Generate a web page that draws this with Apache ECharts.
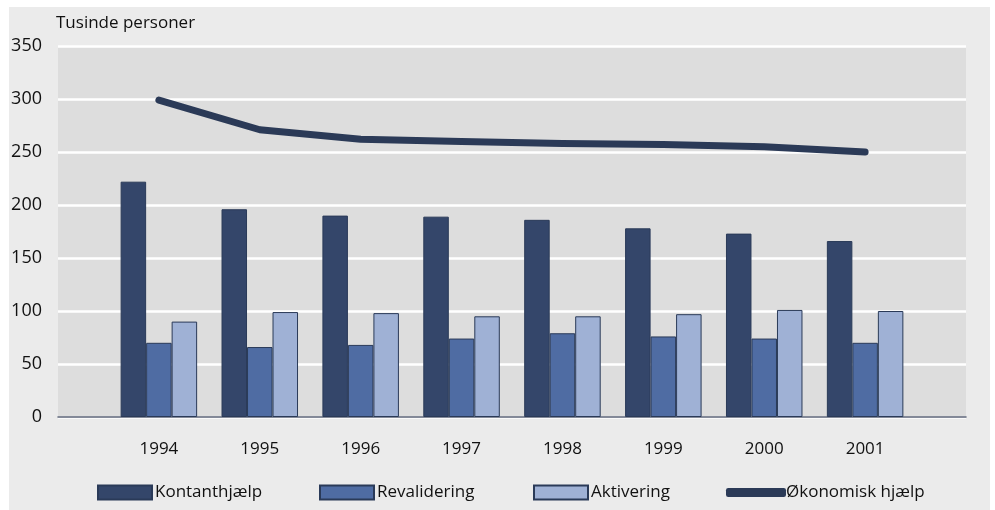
<!DOCTYPE html>
<html>
<head>
<meta charset="utf-8">
<script src="https://cdn.jsdelivr.net/npm/echarts@6/dist/echarts.min.js"></script>
<style>
html,body{margin:0;padding:0;background:#ffffff;}
#chart{width:995px;height:510px;}
</style>
</head>
<body>
<div id="chart"></div>
<script>
const categories = ['', '1994', '1995', '1996', '1997', '1998', '1999', '2000', '2001', ''];
const kontanthjaelp = [null, 222, 196, 190, 189, 186, 178, 173, 166, null];
const revalidering = [null, 70, 66, 68, 74, 79, 76, 74, 70, null];
const aktivering = [null, 90, 99, 98, 95, 95, 97, 101, 100, null];
const oekonomisk = [null, 299, 271, 262, 260, 258, 257, 255, 250, null];
const yTicks = [0, 50, 100, 150, 200, 250, 300, 350];

const FONT = '"Open Sans", "Noto Sans", sans-serif';
const chart = echarts.init(document.getElementById('chart'));
const barBorder = '#2a3a58';

function legend(name, left, w, icon) {
  return {
    data: [{name: name, icon: icon}],
    left: left, top: 484, padding: 0,
    itemWidth: w, itemHeight: 14, itemGap: 0,
    textStyle: {fontFamily: FONT, fontSize: 17, color: '#111', padding: [0,0,0,-2]},
    selectedMode: false
  };
}

chart.setOption({
  backgroundColor: '#ffffff',
  animation: false,
  graphic: [
    {type: 'rect', z: -10, shape: {x: 9, y: 7, width: 981, height: 503}, style: {fill: '#ebebeb'}},
    {type: 'text', left: 56, top: 15, style: {text: 'Tusinde personer', fontFamily: FONT, fontSize: 17, fill: '#111'}}
  ],
  grid: {left: 58, right: 29, top: 46, bottom: 93, show: true, backgroundColor: '#dddddd', borderWidth: 0},
  legend: [
    legend('Kontanthjælp', 97, 54, 'rect'),
    legend('Revalidering', 319, 54, 'rect'),
    legend('Aktivering', 533, 54, 'rect'),
    {
      data: [{name: 'Økonomisk hjælp', icon: 'roundRect'}],
      left: 726, top: 484, padding: 0, itemWidth: 60, itemHeight: 9, itemGap: 0,
      textStyle: {fontFamily: FONT, fontSize: 17, color: '#111', padding: [0,0,0,-5]},
      selectedMode: false
    }
  ],
  xAxis: {
    type: 'category',
    data: categories,
    boundaryGap: false,
    axisLine: {show: true, lineStyle: {color: '#5c6478', width: 1.5}},
    axisTick: {show: false},
    axisLabel: {fontFamily: FONT, fontSize: 17, color: '#111', margin: 24, interval: 0},
    splitLine: {show: false}
  },
  yAxis: {
    type: 'value',
    min: 0, max: 350, interval: 50,
    axisLine: {show: false},
    axisTick: {show: false},
    axisLabel: {fontFamily: FONT, fontSize: 18, color: '#111', margin: 16,
      formatter: v => yTicks.includes(v) ? String(v) : ''},
    splitLine: {show: true, lineStyle: {color: '#ffffff', width: 2.5}}
  },
  series: [
    {name: 'Kontanthjælp', type: 'bar', data: kontanthjaelp, barWidth: 25.5, barGap: '0%',
      itemStyle: {color: '#34466a', borderColor: barBorder, borderWidth: 1}},
    {name: 'Revalidering', type: 'bar', data: revalidering, barWidth: 25.5, barGap: '0%',
      itemStyle: {color: '#4f6ca3', borderColor: barBorder, borderWidth: 1}},
    {name: 'Aktivering', type: 'bar', data: aktivering, barWidth: 25.5, barGap: '0%',
      itemStyle: {color: '#9fb1d5', borderColor: barBorder, borderWidth: 1}},
    {name: 'Økonomisk hjælp', type: 'line', data: oekonomisk, symbol: 'none', smooth: false,
      lineStyle: {color: '#2b3a57', width: 7, cap: 'round', join: 'round'},
      itemStyle: {color: '#2b3a57'}, z: 5}
  ]
});
</script>
</body>
</html>
